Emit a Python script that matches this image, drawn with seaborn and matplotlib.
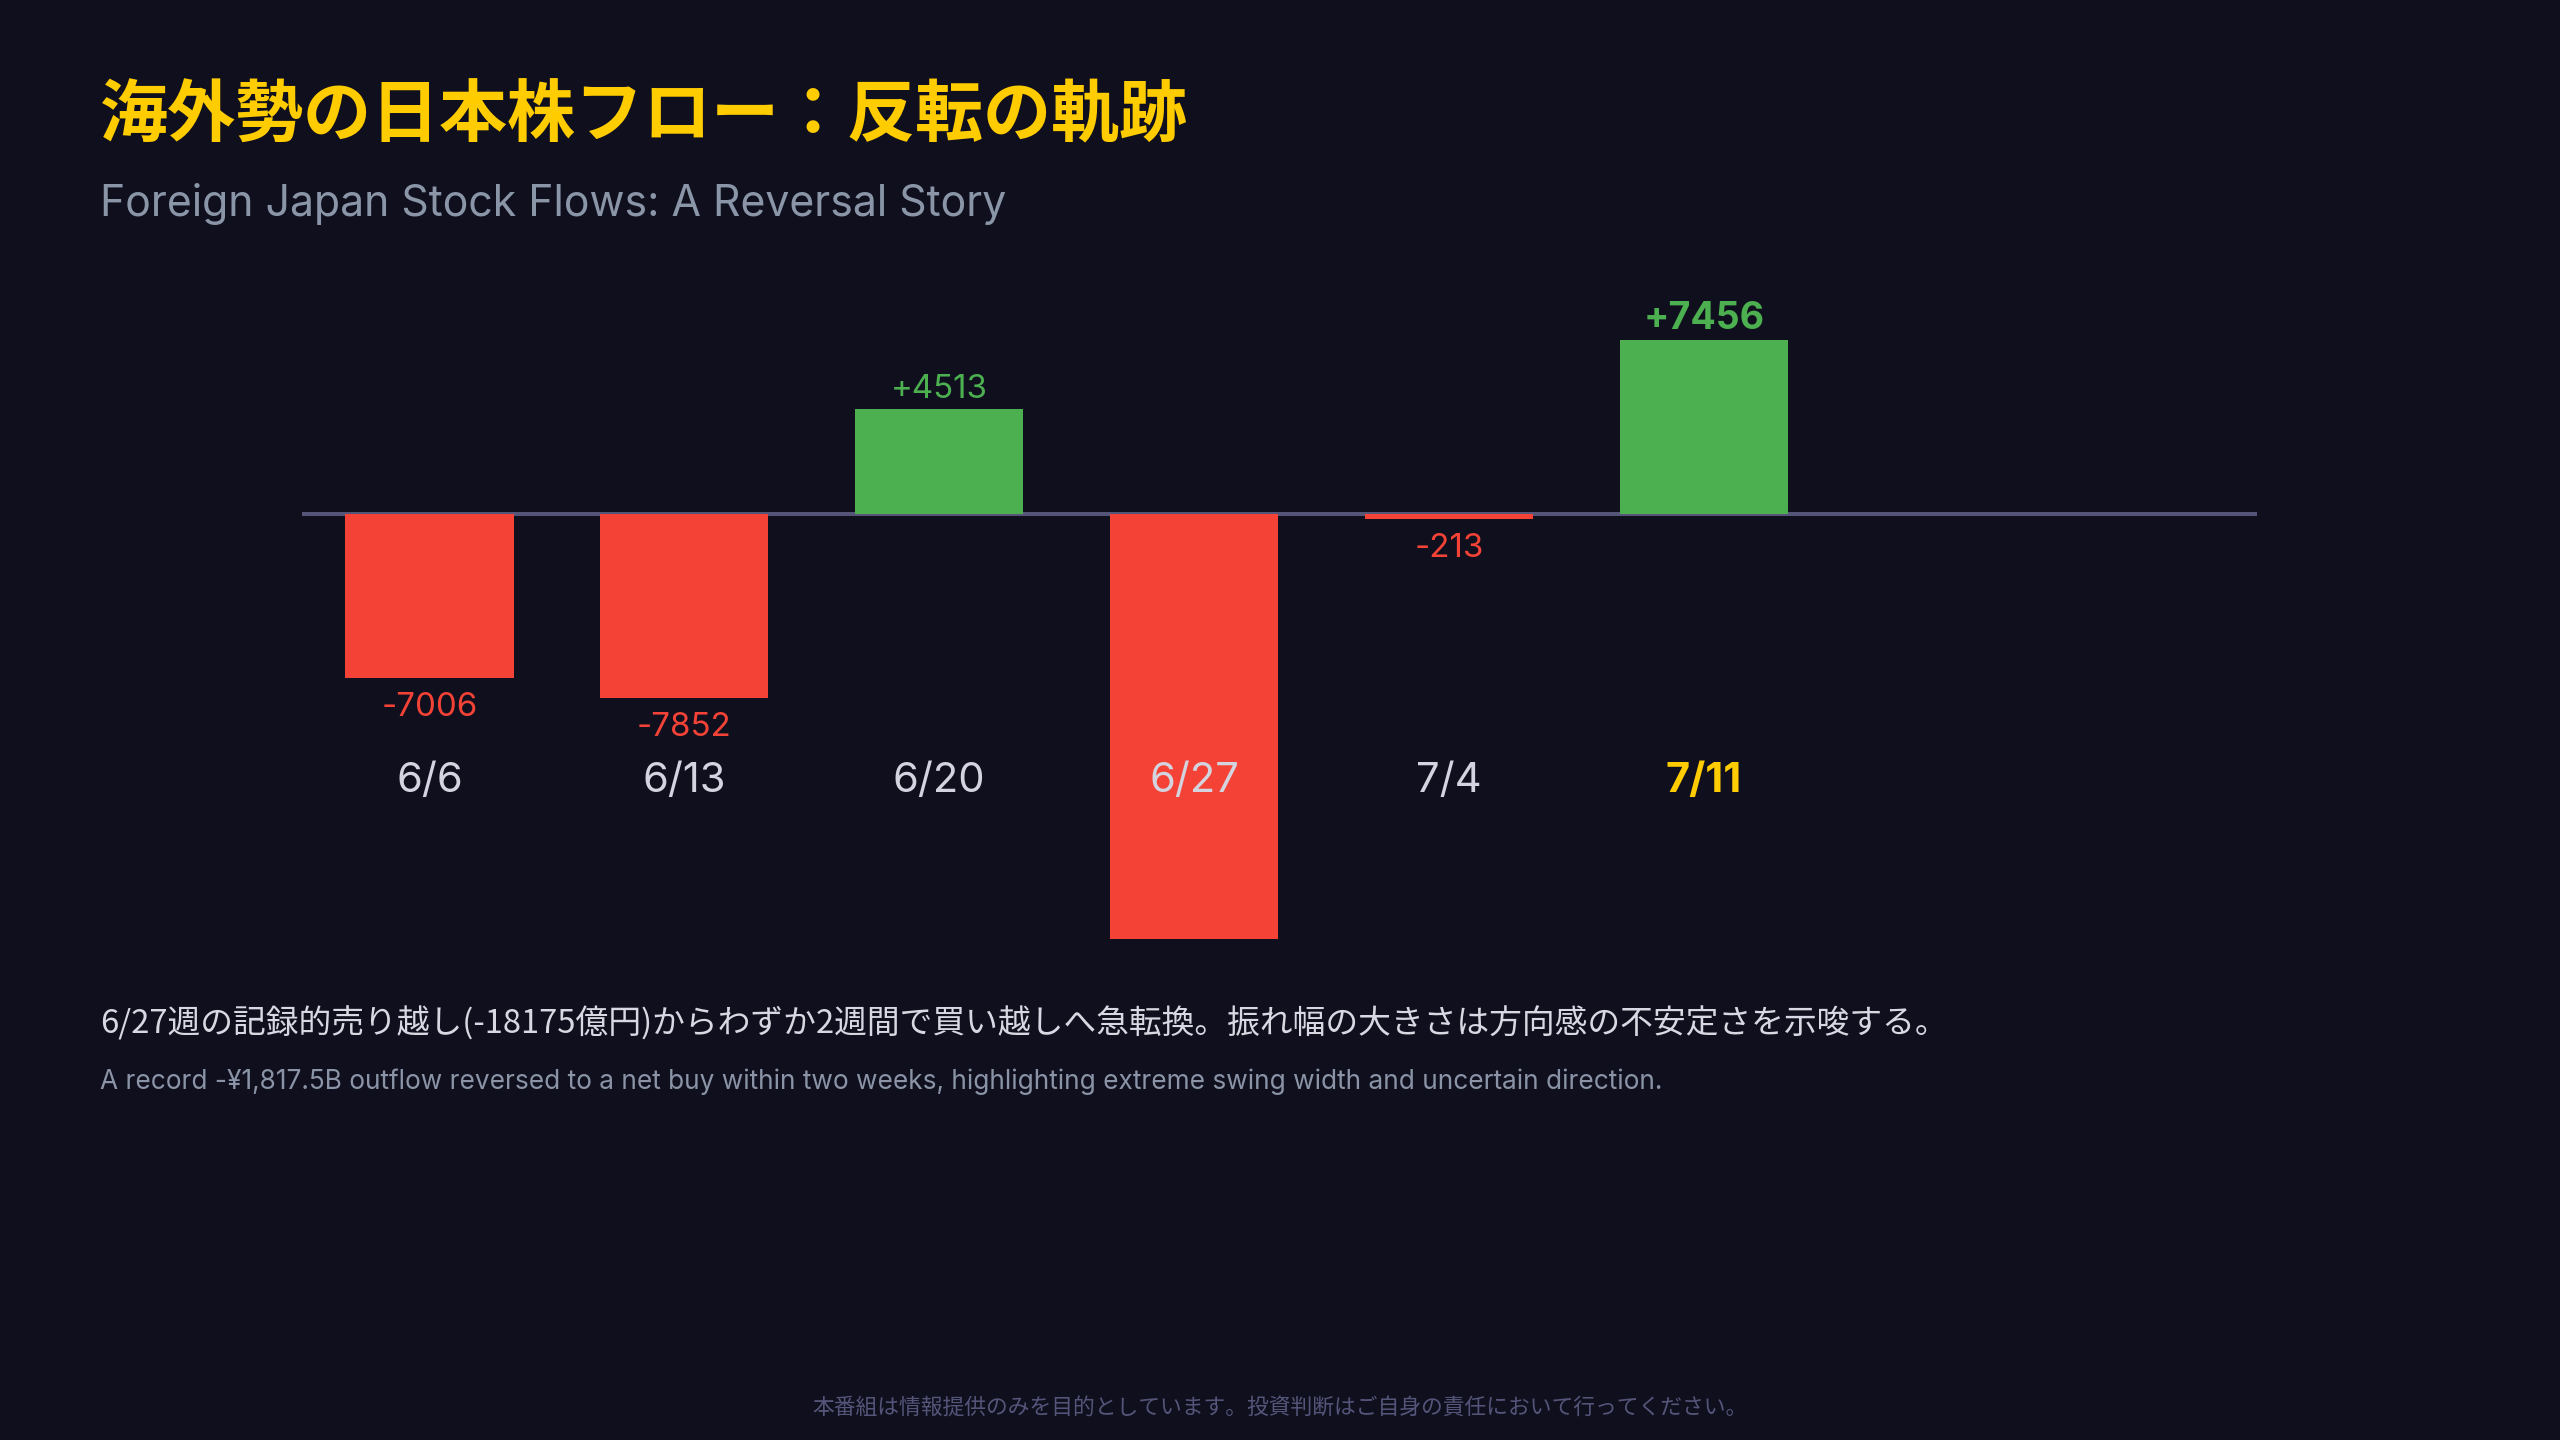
import matplotlib
matplotlib.use("Agg")
import matplotlib.pyplot as plt
import seaborn as sns
import pandas as pd

# ---- data ----
weeks = ["6/6", "6/13", "6/20", "6/27", "7/4", "7/11"]
flows = [-7006, -7852, 4513, -18175, -213, 7456]
show_value = [True, True, True, False, True, True]

title_jp = "海外勢の日本株フロー：反転の軌跡"
subtitle_en = "Foreign Japan Stock Flows: A Reversal Story"
body_jp = "6/27週の記録的売り越し(-18175億円)からわずか2週間で買い越しへ急転換。振れ幅の大きさは方向感の不安定さを示唆する。"
body_en = "A record -¥1,817.5B outflow reversed to a net buy within two weeks, highlighting extreme swing width and uncertain direction."
footer = "本番組は情報提供のみを目的としています。投資判断はご自身の責任において行ってください。"

# ---- style ----
BG = "#0f0f1e"
RED = "#F44336"
GREEN = "#4CAF50"
YELLOW = "#FFCC00"
LATIN = ["Inter", "DejaVu Sans"]
sns.set_theme(style="white")
plt.rcParams["font.family"] = ["Noto Sans CJK JP", "DejaVu Sans"]

df = pd.DataFrame({"week": weeks, "flow": flows})
df["sign"] = ["pos" if v >= 0 else "neg" for v in flows]

W, H = 2560, 1440
fig = plt.figure(figsize=(W / 100, H / 100), dpi=100, facecolor=BG)

ax_left, ax_right, ax_top, ax_bot = 302, 2257, 300, 960
ax = fig.add_axes([ax_left / W, 1 - ax_bot / H, (ax_right - ax_left) / W, (ax_bot - ax_top) / H])
ax.set_facecolor(BG)

k = 0.02335  # px per unit
zero_px = 514.5

ax.axhline(0, color="#555577", linewidth=2.9, zorder=1)
sns.barplot(data=df, x="week", y="flow", hue="sign", order=weeks,
            palette={"pos": GREEN, "neg": RED}, dodge=False, width=0.66,
            saturation=1, legend=False, linewidth=0, ax=ax, zorder=2)
ax.set_xlim(-0.5, 7.17)
ax.set_ylim(-(ax_bot - zero_px) / k, (zero_px - ax_top) / k)

for sp in ax.spines.values():
    sp.set_visible(False)
ax.set_xticks([])
ax.set_yticks([])
ax.set_xlabel("")
ax.set_ylabel("")

last = len(weeks) - 1
for i, (w, v) in enumerate(zip(weeks, flows)):
    col = GREEN if v >= 0 else RED
    hl = i == last
    if show_value[i]:
        off = 11 * 0.72 if v >= 0 else -38 * 0.72
        ax.annotate(f"{v:+d}", xy=(i, v), xytext=(0, off), textcoords="offset points",
                    ha="center", va="baseline", color=col,
                    fontsize=27 if hl else 23.8, fontweight="bold" if hl else "normal",
                    fontfamily=LATIN, zorder=5)
    ax.text(i, (ax_bot - 792) / (ax_bot - ax_top), w, transform=ax.get_xaxis_transform(),
            ha="center", va="baseline", fontsize=30,
            color=YELLOW if hl else "#d4d4e0", fontweight="bold" if hl else "normal",
            fontfamily=LATIN, zorder=5)

# ---- texts ----
fig.text(100 / W, 1 - 136 / H, title_jp, color=YELLOW, fontsize=49, fontweight="bold",
         ha="left", va="baseline")
fig.text(100 / W, 1 - 216 / H, subtitle_en, color="#8a96a8", fontsize=30.8,
         ha="left", va="baseline", fontfamily=LATIN)
fig.text(100 / W, 1 - 1034 / H, body_jp, color="#d8d8e2", fontsize=23.6,
         ha="left", va="baseline")
fig.text(100 / W, 1 - 1089 / H, body_en, color="#8a94a6", fontsize=18.9,
         ha="left", va="baseline", fontfamily=LATIN)
fig.text(0.5, 1 - 1414 / H, footer, color="#55557a", fontsize=15.7,
         ha="center", va="baseline")

fig.savefig("out.png", dpi=100, facecolor=BG)
